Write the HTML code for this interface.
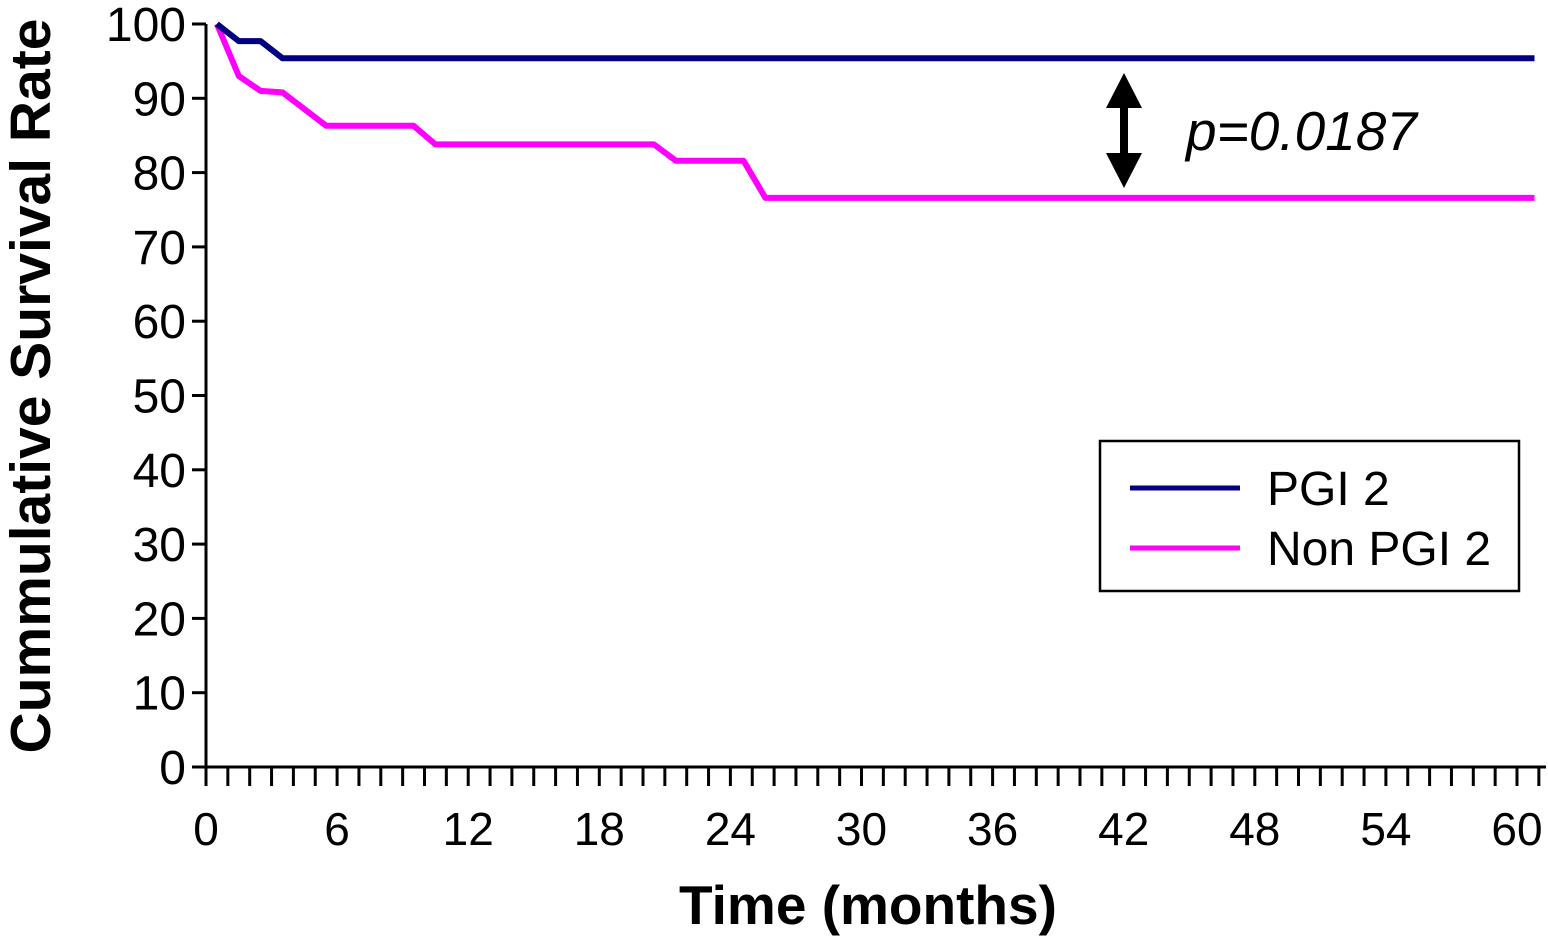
<!DOCTYPE html>
<html><head><meta charset="utf-8"><style>
body{margin:0;background:#fff}
svg{display:block;font-family:"Liberation Sans",Arial,sans-serif}
</style></head><body>
<svg id="chart" width="1548" height="936" viewBox="0 0 1548 936"></svg>
<script>
const yTicks=[0,10,20,30,40,50,60,70,80,90,100];
const xTickLabels=[0,6,12,18,24,30,36,42,48,54,60];
const pgiTime=[0.5,1.5,2.5,3.5,60.8];
const pgiSurv=[100,97.7,97.7,95.4,95.4];
const nonTime=[0.5,1.5,2.5,3.5,5.5,9.5,10.5,20.5,21.5,24.6,25.6,60.8];
const nonSurv=[100,93.0,91.0,90.8,86.3,86.3,83.8,83.8,81.6,81.6,76.6,76.6];
const pValue="p=0.0187";

const NS="http://www.w3.org/2000/svg";
const svg=document.getElementById('chart');
const X0=206,XM=21.85,Y0=767,YU=7.43;
const xs=m=>X0+m*XM, ys=v=>Y0-v*YU;
function mk(t,a,p){const e=document.createElementNS(NS,t);for(const k in a)e.setAttribute(k,a[k]);(p||svg).appendChild(e);return e;}

const ax=mk('path',{d:`M${X0} ${ys(100)}V${Y0}M${X0-14} ${Y0}H1546`,stroke:'#000','stroke-width':3,fill:'none'});


yTicks.forEach(v=>{
  const t=mk('line',{x1:X0-14,x2:X0,y1:ys(v),y2:ys(v),stroke:'#000','stroke-width':3});
  
  
  const l=mk('text',{x:X0-20,y:ys(v)+17,'text-anchor':'end','font-size':48});
  l.textContent=v;
  
  
});
for(let m=0;m<=61;m++){
  const t=mk('line',{x1:xs(m),x2:xs(m),y1:Y0,y2:Y0+19,stroke:'#000','stroke-width':3});
  
  
}
xTickLabels.forEach(v=>{
  const l=mk('text',{x:xs(v),y:Y0+78,'text-anchor':'middle','font-size':46});
  l.textContent=v;
  
  
});
const xt=mk('text',{x:868,y:924,'text-anchor':'middle','font-size':55,'font-weight':'bold'});
xt.textContent='Time (months)';


const yt=mk('text',{x:0,y:0,'text-anchor':'middle','font-size':57,'font-weight':'bold',transform:'translate(50 386) rotate(-90)'});
yt.textContent='Cummulative Survival Rate';



function line(T,S,color,name){
  const d=T.map((t,i)=>(i?'L':'M')+xs(t).toFixed(1)+' '+ys(S[i]).toFixed(1)).join('');
  const p=mk('path',{d,stroke:color,'stroke-width':6,fill:'none','stroke-linejoin':'round'});
  
  
}
line(nonTime,nonSurv,'#ff00ff','non-pgi2-line');
line(pgiTime,pgiSurv,'#000080','pgi2-line');

const ar=mk('path',{d:'M1124 73L1142 108H1128V153H1142L1124 188L1106 153H1120V108H1106Z',fill:'#000'});


const pt=mk('text',{x:1186,y:150,'font-size':55,'font-style':'italic'});
pt.textContent=pValue;



const lg=mk('g',{});


mk('rect',{x:1100,y:441,width:419,height:150,fill:'#fff',stroke:'#000','stroke-width':2.5},lg);
[['PGI 2','#000080',488],['Non PGI 2','#ff00ff',548]].forEach(([n,c,y])=>{
  const e=mk('g',{},lg);
  
  
  mk('line',{x1:1130,x2:1240,y1:y,y2:y,stroke:c,'stroke-width':5},e);
  const t=mk('text',{x:1267,y:y+17,'font-size':48},e);
  t.textContent=n;
});
</script>
</body></html>
